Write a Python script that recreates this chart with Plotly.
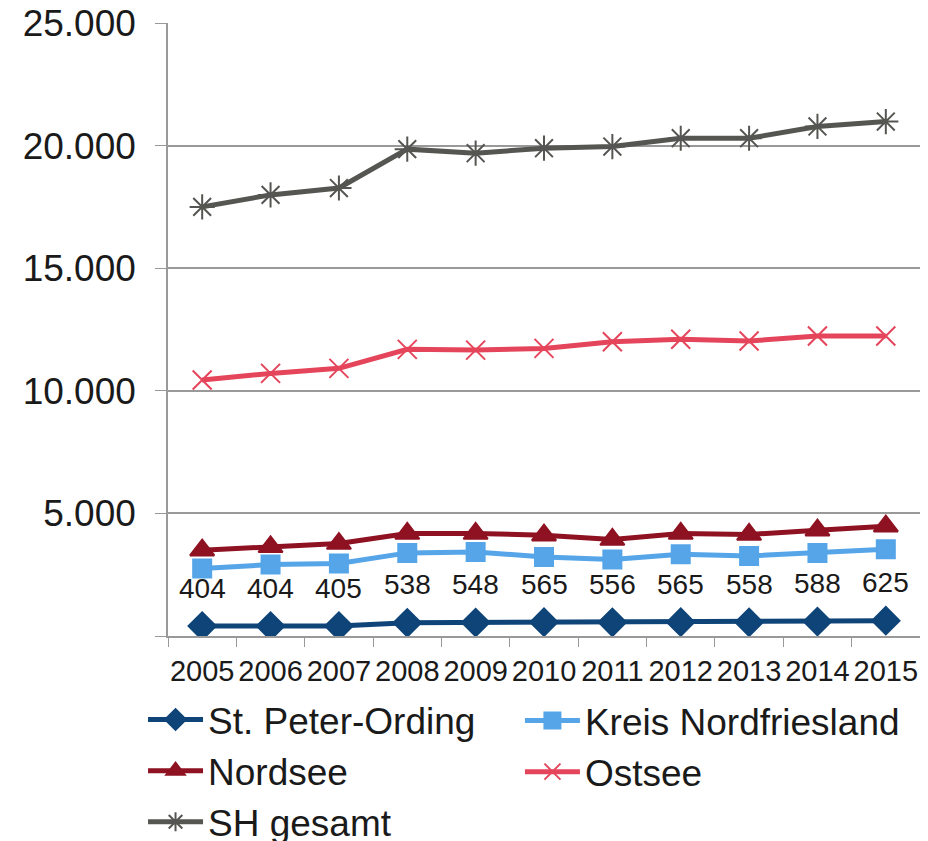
import plotly.graph_objects as go

jahre = ["2005", "2006", "2007", "2008", "2009", "2010", "2011", "2012", "2013", "2014", "2015"]

st_peter = [404, 404, 405, 538, 548, 565, 556, 565, 558, 588, 625]
kreis_nf = [2750, 2915, 2955, 3390, 3430, 3225, 3120, 3335, 3265, 3390, 3540]
nordsee = [3500, 3635, 3770, 4180, 4180, 4110, 3935, 4180, 4140, 4315, 4480]
ostsee = [10440, 10710, 10915, 11690, 11660, 11730, 12000, 12100, 12030, 12235, 12235]
sh_gesamt = [17500, 17990, 18270, 19855, 19690, 19895, 19960, 20300, 20300, 20780, 20980]

y_ticks = [0, 5000, 10000, 15000, 20000, 25000]
y_labels = ["", "5.000", "10.000", "15.000", "20.000", "25.000"]

# name, werte, farbe, symbol, groesse, legenden-spalte
serien = [
    ("St. Peter-Ording", st_peter, "#0E4478", "diamond", 21, "legend"),
    ("Kreis Nordfriesland", kreis_nf, "#55A5E8", "square", 18, "legend2"),
    ("Nordsee", nordsee, "#8E1222", "triangle-up", 21, "legend"),
    ("Ostsee", ostsee, "#E5455A", "x-thin-open", 19, "legend2"),
    ("SH gesamt", sh_gesamt, "#555551", "asterisk-open", 21, "legend"),
]

fig = go.Figure()
for name, werte, farbe, symbol, groesse, leg in serien:
    fig.add_trace(go.Scatter(
        x=jahre, y=werte, name=name, mode="lines+markers", legend=leg,
        line=dict(color=farbe, width=5),
        marker=dict(symbol=symbol, size=groesse, color=farbe,
                    line=dict(color=farbe, width=2)),
    ))

# Datenbeschriftung fuer St. Peter-Ording (x als Kategorie-Index)
for i, v in enumerate(st_peter):
    fig.add_annotation(x=i, y=v, text=str(v), showarrow=False, yshift=38,
                       font=dict(size=28, color="#1a1a1a"))

legende = dict(
    orientation="v", xanchor="left", yanchor="bottom",
    font=dict(size=37), itemwidth=55,
    traceorder="normal", tracegroupgap=0,
)

fig.update_layout(
    width=928, height=841,
    margin=dict(l=160, r=16, t=15, b=213, autoexpand=False),
    plot_bgcolor="white", paper_bgcolor="white",
    font=dict(family="Liberation Sans, Arial, sans-serif", color="#1a1a1a"),
    showlegend=True,
    legend=dict(legende, x=-0.0332, y=-0.354),
    legend2=dict(legende, x=0.468, y=-0.2724),
)
fig.update_xaxes(
    type="category", range=[-0.5, len(jahre) - 0.5], automargin=False,
    showgrid=False, showline=True, linecolor="#999999", linewidth=1.5,
    ticks="outside", tickson="boundaries", ticklen=9, tickcolor="#999999",
    tickfont=dict(size=29), tickangle=0, ticklabelstandoff=8,
    ticklabeloverflow="allow", fixedrange=True,
)
fig.update_yaxes(
    range=[0, 25000], tickvals=y_ticks, ticktext=y_labels, automargin=False,
    showgrid=True, gridcolor="#999999", gridwidth=1.5,
    showline=True, linecolor="#999999", linewidth=1.5,
    ticks="outside", ticklen=11, tickcolor="#999999",
    tickfont=dict(size=37), ticklabelstandoff=12, ticklabeloverflow="allow",
    zeroline=False,
)

fig.write_html("out.html")
